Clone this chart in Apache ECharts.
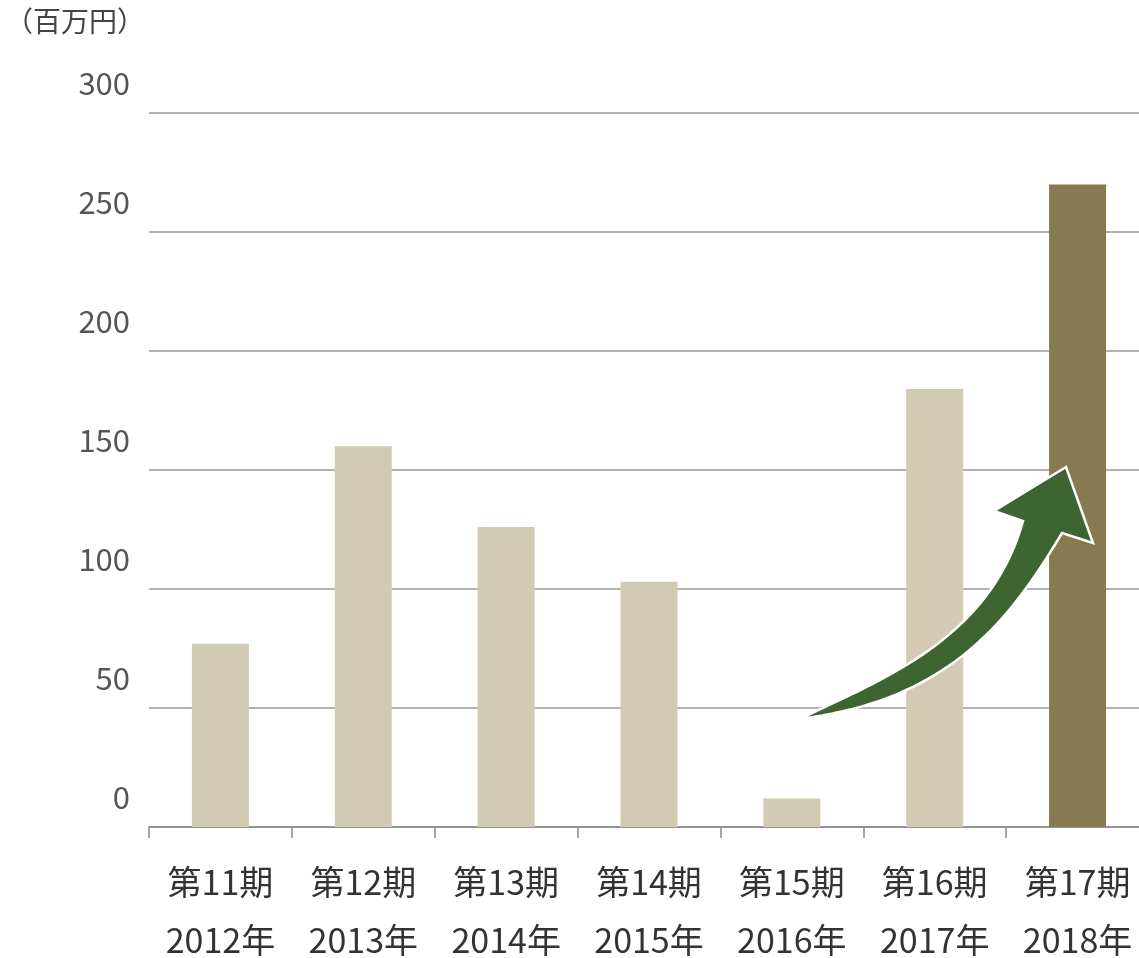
<!DOCTYPE html>
<html><head><meta charset="utf-8">
<script src="https://cdn.jsdelivr.net/npm/echarts@6/dist/echarts.min.js"></script>
<style>html,body{margin:0;padding:0;background:#fff}#c{width:1139px;height:958px}</style>
</head><body><div id="c"></div>
<script>
const periods = ['第11期','第12期','第13期','第14期','第15期','第16期','第17期'];
const years = ['2012年','2013年','2014年','2015年','2016年','2017年','2018年'];
const values = [77, 160, 126, 103, 12, 184, 270];
const unitLabel = '（百万円）';
const yTicks = [0, 50, 100, 150, 200, 250, 300];
const highlightIndex = 6;
// arrow outline in data units: [category index, value]
const arrowPts = {
  tail:[4.06,45.5], c1:[4.617,61.76], c2:[5.387,78.57], innerL:[5.618,128.57],
  barbL:[5.415,132.77], tip:[5.919,151.26], barbR:[6.108,119.33], innerR:[5.891,123.53],
  d1:[5.527,86.97], d2:[5.107,53.36]
};

const categories = periods.map((p,i)=>p+'\n'+years[i]);
const font = '"Noto Sans CJK JP", "Noto Sans", sans-serif';
const chart = echarts.init(document.getElementById('c'), null, {renderer:'canvas'});
chart.setOption({
  animation:false,
  title:{text:unitLabel, left:0, top:2, textStyle:{fontFamily:font, fontSize:28, fontWeight:'normal', color:'#444'}},
  grid:{left:149, width:1000, top:113, bottom:131, containLabel:false, outerBoundsMode:'none'},
  xAxis:{type:'category', data:categories,
    axisLine:{lineStyle:{color:'#8a8a8a', width:1.5}},
    axisTick:{show:true, length:11, lineStyle:{color:'#8a8a8a', width:1.5}},
    axisLabel:{fontFamily:font, fontSize:34, color:'#333', lineHeight:58, margin:26, interval:0}
  },
  yAxis:{type:'value', min:yTicks[0], max:yTicks[yTicks.length-1], interval:50,
    axisLine:{show:false}, axisTick:{show:false},
    splitLine:{lineStyle:{color:'#999', width:1.5}},
    axisLabel:{fontFamily:font, fontSize:31, color:'#555', margin:19, verticalAlign:'bottom', lineHeight:34, padding:[0,0,13,0]}
  },
  series:[{type:'bar', barWidth:57, z:3,
    data: values.map((v,i)=>({value:v, itemStyle:{color: i===highlightIndex ? '#877a51' : '#d3cab4'}}))
  }]
});

function P(key){
  const [c,v] = arrowPts[key];
  const x0 = chart.convertToPixel({xAxisIndex:0}, categories[0]);
  const x1 = chart.convertToPixel({xAxisIndex:0}, categories[1]);
  return [x0 + c*(x1-x0), chart.convertToPixel({yAxisIndex:0}, v)];
}
function bez(a,b,c,d,n){
  const out=[];
  for(let i=0;i<=n;i++){const t=i/n,u=1-t;
    out.push([u*u*u*a[0]+3*u*u*t*b[0]+3*u*t*t*c[0]+t*t*t*d[0],
              u*u*u*a[1]+3*u*u*t*b[1]+3*u*t*t*c[1]+t*t*t*d[1]]);}
  return out;
}
const pts = [].concat(
  bez(P('tail'),P('c1'),P('c2'),P('innerL'),40),
  [P('barbL'),P('tip'),P('barbR')],
  bez(P('innerR'),P('d1'),P('d2'),P('tail'),40).slice(0,-1)
);
chart.setOption({graphic:[{type:'polygon', z:10, shape:{points:pts},
  style:{fill:'#3d6531', stroke:'#fff', lineWidth:2.5, lineJoin:'miter'}}]});
</script></body></html>
